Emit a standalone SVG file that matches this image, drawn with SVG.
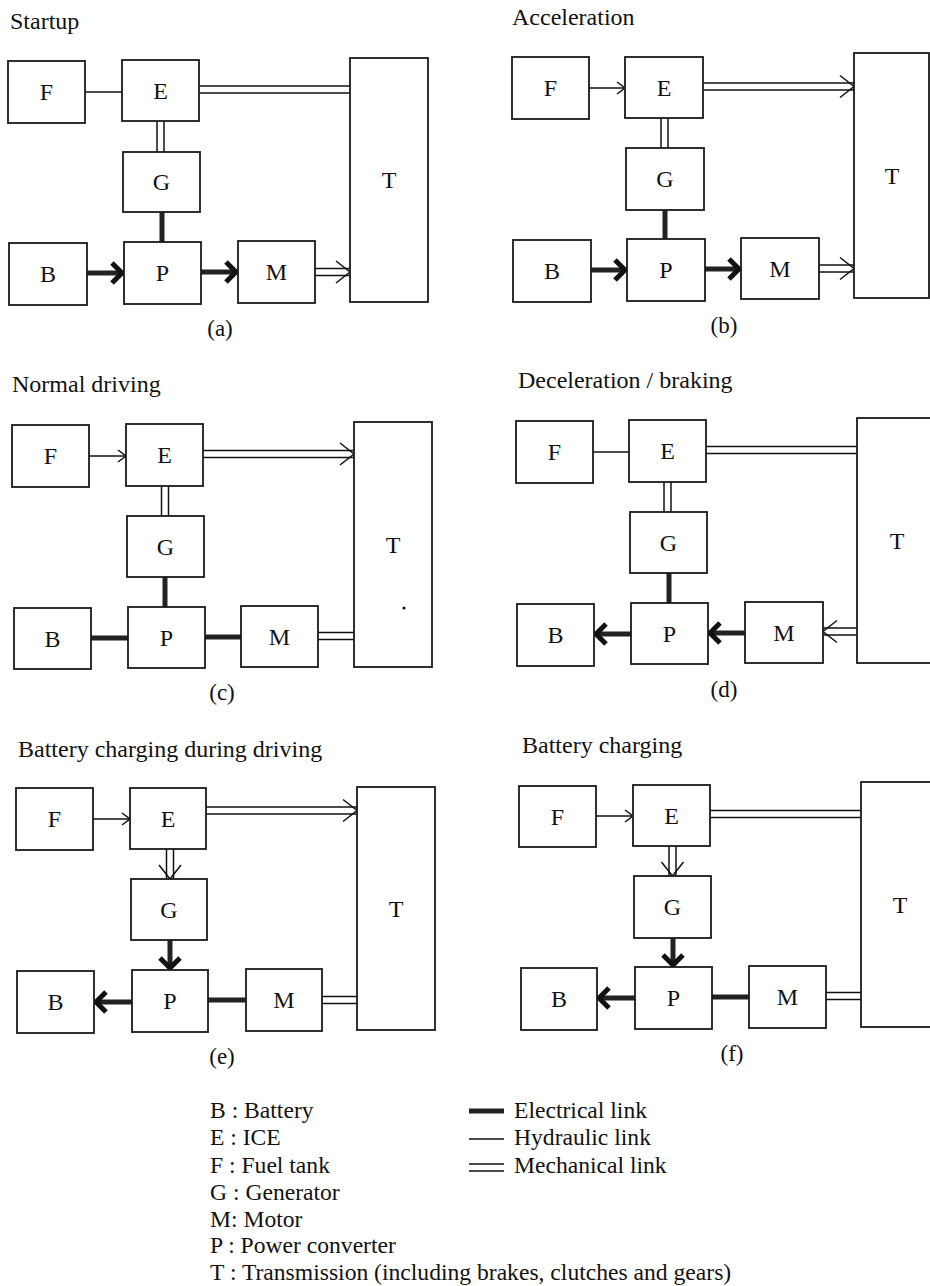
<svg xmlns="http://www.w3.org/2000/svg" width="930" height="1286" viewBox="0 0 930 1286">
<style>
  .box{fill:#fff;stroke:#1a1a1a;stroke-width:1.8}
  .lbl{font-family:"Liberation Serif","Times New Roman",serif;font-size:24px;fill:#111;text-anchor:middle}
  .ttl{font-family:"Liberation Serif","Times New Roman",serif;font-size:24px;fill:#111}
  .cap{font-family:"Liberation Serif","Times New Roman",serif;font-size:23px;fill:#111;text-anchor:middle}
  .leg{font-family:"Liberation Serif","Times New Roman",serif;font-size:23.6px;fill:#111}
  .hyd{fill:none;stroke:#111;stroke-width:1.5}
  .elec{fill:none;stroke:#222;stroke-width:5}
  .mo{fill:none;stroke:#111;stroke-width:8.5}
  .mi{fill:none;stroke:#fff;stroke-width:5.5}
  .ha{fill:none;stroke:none;marker-end:url(#hArr)}
  .ea{fill:none;stroke:none;marker-end:url(#eArr)}
  .ma{fill:none;stroke:none;marker-end:url(#mArr)}
</style>
<defs>
  <marker id="hArr" viewBox="-20 -20 40 40" markerWidth="40" markerHeight="40" markerUnits="userSpaceOnUse" refX="0" refY="0" orient="auto" overflow="visible">
    <path d="M-8,-6 L0,0 L-8,6" fill="none" stroke="#111" stroke-width="1.5"/>
  </marker>
  <marker id="mArr" viewBox="-20 -20 40 40" markerWidth="40" markerHeight="40" markerUnits="userSpaceOnUse" refX="0" refY="0" orient="auto" overflow="visible">
    <path d="M-14,-11 L0,0 L-14,11" fill="none" stroke="#111" stroke-width="1.5"/>
  </marker>
  <marker id="eArr" viewBox="-20 -20 40 40" markerWidth="40" markerHeight="40" markerUnits="userSpaceOnUse" refX="0" refY="0" orient="auto" overflow="visible">
    <path d="M-12,-10 L-2,0 L-12,10" fill="none" stroke="#111" stroke-width="5" stroke-linejoin="miter"/>
  </marker>
</defs>
<rect width="930" height="1286" fill="#fff"/>

<!-- Titles -->
<g id="titles">
  <text class="ttl" x="10" y="29">Startup</text>
  <text class="ttl" x="512" y="25">Acceleration</text>
  <text class="ttl" x="12" y="392">Normal driving</text>
  <text class="ttl" x="518" y="388">Deceleration / braking</text>
  <text class="ttl" x="18" y="757">Battery charging during driving</text>
  <text class="ttl" x="522" y="753">Battery charging</text>
  <text class="cap" x="220" y="336">(a)</text>
  <text class="cap" x="724" y="333">(b)</text>
  <text class="cap" x="222" y="700">(c)</text>
  <text class="cap" x="724" y="697">(d)</text>
  <text class="cap" x="222" y="1064">(e)</text>
  <text class="cap" x="732" y="1061">(f)</text>
</g>

<!-- Connectors -->
<g id="connectors">
  <!-- (a) -->
  <path class="hyd" d="M85,92 L122,92"/>
  <path class="mo" d="M199,89.5 L350,89.5"/><path class="mi" d="M199,89.5 L350,89.5"/>
  <path class="mo" d="M160.5,121 L160.5,152"/><path class="mi" d="M160.5,121 L160.5,152"/>
  <path class="elec" d="M162,212 L162,242"/>
  <path class="elec" d="M87,273 L122,273"/><path class="ea" d="M87,273 L124,273"/>
  <path class="elec" d="M201,272 L236,272"/><path class="ea" d="M201,272 L238,272"/>
  <path class="mo" d="M315,272 L350,272"/><path class="mi" d="M315,272 L350,272"/><path class="ma" d="M315,272 L350,272"/>

  <!-- (b) -->
  <path class="hyd" d="M589,88 L625,88"/><path class="ha" d="M589,88 L625,88"/>
  <path class="mo" d="M703,86.5 L854,86.5"/><path class="mi" d="M703,86.5 L854,86.5"/><path class="ma" d="M703,86.5 L854,86.5"/>
  <path class="mo" d="M664.5,118 L664.5,148"/><path class="mi" d="M664.5,118 L664.5,148"/>
  <path class="elec" d="M665,210 L665,239"/>
  <path class="elec" d="M591,270 L625,270"/><path class="ea" d="M591,270 L627,270"/>
  <path class="elec" d="M705,269 L739,269"/><path class="ea" d="M705,269 L741,269"/>
  <path class="mo" d="M819,268.5 L854,268.5"/><path class="mi" d="M819,268.5 L854,268.5"/><path class="ma" d="M819,268.5 L854,268.5"/>

  <!-- (c) -->
  <path class="hyd" d="M89,456 L126,456"/><path class="ha" d="M89,456 L126,456"/>
  <path class="mo" d="M203,454 L354,454"/><path class="mi" d="M203,454 L354,454"/><path class="ma" d="M203,454 L354,454"/>
  <path class="mo" d="M165,486 L165,516"/><path class="mi" d="M165,486 L165,516"/>
  <path class="elec" d="M165,577 L165,607"/>
  <path class="elec" d="M91,638 L128,638"/>
  <path class="elec" d="M205,637 L241,637"/>
  <path class="mo" d="M318,636 L354,636"/><path class="mi" d="M318,636 L354,636"/>

  <!-- (d) -->
  <path class="hyd" d="M593,452 L629,452"/>
  <path class="mo" d="M706,450 L857,450"/><path class="mi" d="M706,450 L857,450"/>
  <path class="mo" d="M667.5,482 L667.5,512"/><path class="mi" d="M667.5,482 L667.5,512"/>
  <path class="elec" d="M669,573 L669,603"/>
  <path class="elec" d="M631,634 L596,634"/><path class="ea" d="M631,634 L594,634"/>
  <path class="elec" d="M745,633 L710,633"/><path class="ea" d="M745,633 L708,633"/>
  <path class="mo" d="M857,631.5 L823,631.5"/><path class="mi" d="M857,631.5 L823,631.5"/><path class="ma" d="M857,631.5 L823,631.5"/>

  <!-- (e) -->
  <path class="hyd" d="M93,819 L130,819"/><path class="ha" d="M93,819 L130,819"/>
  <path class="mo" d="M206,810.5 L357,810.5"/><path class="mi" d="M206,810.5 L357,810.5"/><path class="ma" d="M206,810.5 L357,810.5"/>
  <path class="mo" d="M170,849 L170,879"/><path class="mi" d="M170,849 L170,879"/><path class="ma" d="M170,849 L170,879"/>
  <path class="elec" d="M170,940 L170,968"/><path class="ea" d="M170,940 L170,970"/>
  <path class="elec" d="M132,1002 L96,1002"/><path class="ea" d="M132,1002 L94,1002"/>
  <path class="elec" d="M208,1000 L246,1000"/>
  <path class="mo" d="M322,1000 L357,1000"/><path class="mi" d="M322,1000 L357,1000"/>

  <!-- (f) -->
  <path class="hyd" d="M596,816 L633,816"/><path class="ha" d="M596,816 L633,816"/>
  <path class="mo" d="M710,814 L861,814"/><path class="mi" d="M710,814 L861,814"/>
  <path class="mo" d="M672.5,846 L672.5,876"/><path class="mi" d="M672.5,846 L672.5,876"/><path class="ma" d="M672.5,846 L672.5,876"/>
  <path class="elec" d="M673,938 L673,965"/><path class="ea" d="M673,938 L673,967"/>
  <path class="elec" d="M635,998 L599,998"/><path class="ea" d="M635,998 L597,998"/>
  <path class="elec" d="M712,997 L749,997"/>
  <path class="mo" d="M826,996 L861,996"/><path class="mi" d="M826,996 L861,996"/>
</g>

<!-- Panel (a) nodes -->
<g id="a-F"><rect class="box" x="8" y="61" width="77" height="62"/><text class="lbl" x="46.5" y="100">F</text></g>
<g id="a-E"><rect class="box" x="122" y="60" width="77" height="61"/><text class="lbl" x="160.5" y="98.5">E</text></g>
<g id="a-G"><rect class="box" x="123" y="152" width="77" height="60"/><text class="lbl" x="161.5" y="190">G</text></g>
<g id="a-B"><rect class="box" x="9" y="243" width="78" height="62"/><text class="lbl" x="48" y="282">B</text></g>
<g id="a-P"><rect class="box" x="124" y="242" width="77" height="62"/><text class="lbl" x="162.5" y="281">P</text></g>
<g id="a-M"><rect class="box" x="238" y="241" width="77" height="62"/><text class="lbl" x="276.5" y="280">M</text></g>
<g id="a-T"><rect class="box" x="350" y="58" width="78" height="244"/><text class="lbl" x="389" y="188">T</text></g>

<!-- Panel (b) nodes -->
<g id="b-F"><rect class="box" x="512" y="57" width="77" height="62"/><text class="lbl" x="550.5" y="96">F</text></g>
<g id="b-E"><rect class="box" x="625" y="57" width="78" height="61"/><text class="lbl" x="664" y="95.5">E</text></g>
<g id="b-G"><rect class="box" x="626" y="148" width="78" height="62"/><text class="lbl" x="665" y="187">G</text></g>
<g id="b-B"><rect class="box" x="513" y="240" width="78" height="62"/><text class="lbl" x="552" y="279">B</text></g>
<g id="b-P"><rect class="box" x="627" y="239" width="78" height="62"/><text class="lbl" x="666" y="278">P</text></g>
<g id="b-M"><rect class="box" x="741" y="238" width="78" height="61"/><text class="lbl" x="780" y="276.5">M</text></g>
<g id="b-T"><rect class="box" x="854" y="53" width="75" height="245"/><text class="lbl" x="892" y="184">T</text></g>

<!-- Panel (c) nodes -->
<g id="c-F"><rect class="box" x="12" y="425" width="77" height="62"/><text class="lbl" x="50.5" y="464">F</text></g>
<g id="c-E"><rect class="box" x="126" y="424" width="77" height="62"/><text class="lbl" x="164.5" y="463">E</text></g>
<g id="c-G"><rect class="box" x="127" y="516" width="77" height="61"/><text class="lbl" x="165.5" y="554.5">G</text></g>
<g id="c-B"><rect class="box" x="14" y="608" width="77" height="61"/><text class="lbl" x="52.5" y="646.5">B</text></g>
<g id="c-P"><rect class="box" x="128" y="607" width="77" height="61"/><text class="lbl" x="166.5" y="645.5">P</text></g>
<g id="c-M"><rect class="box" x="241" y="606" width="77" height="61"/><text class="lbl" x="279.5" y="644.5">M</text></g>
<g id="c-T"><rect class="box" x="354" y="422" width="78" height="245"/><text class="lbl" x="393" y="552.5">T</text><circle cx="404" cy="608" r="1.6" fill="#111"/></g>

<!-- Panel (d) nodes -->
<g id="d-F"><rect class="box" x="516" y="421" width="77" height="62"/><text class="lbl" x="554.5" y="460">F</text></g>
<g id="d-E"><rect class="box" x="629" y="420" width="77" height="62"/><text class="lbl" x="667.5" y="459">E</text></g>
<g id="d-G"><rect class="box" x="630" y="512" width="77" height="61"/><text class="lbl" x="668.5" y="550.5">G</text></g>
<g id="d-B"><rect class="box" x="517" y="604" width="77" height="62"/><text class="lbl" x="555.5" y="643">B</text></g>
<g id="d-P"><rect class="box" x="631" y="603" width="77" height="61"/><text class="lbl" x="669.5" y="641.5">P</text></g>
<g id="d-M"><rect class="box" x="745" y="602" width="78" height="61"/><text class="lbl" x="784" y="640.5">M</text></g>
<g id="d-T"><rect class="box" x="857" y="418" width="76" height="245"/><text class="lbl" x="897" y="548.5">T</text></g>

<!-- Panel (e) nodes -->
<g id="e-F"><rect class="box" x="16" y="788" width="77" height="62"/><text class="lbl" x="54.5" y="827">F</text></g>
<g id="e-E"><rect class="box" x="130" y="788" width="76" height="61"/><text class="lbl" x="168" y="826.5">E</text></g>
<g id="e-G"><rect class="box" x="131" y="879" width="76" height="61"/><text class="lbl" x="169" y="917.5">G</text></g>
<g id="e-B"><rect class="box" x="17" y="971" width="77" height="62"/><text class="lbl" x="55.5" y="1010">B</text></g>
<g id="e-P"><rect class="box" x="132" y="970" width="76" height="62"/><text class="lbl" x="170" y="1009">P</text></g>
<g id="e-M"><rect class="box" x="246" y="969" width="76" height="62"/><text class="lbl" x="284" y="1008">M</text></g>
<g id="e-T"><rect class="box" x="357" y="787" width="78" height="243"/><text class="lbl" x="396" y="916.5">T</text></g>

<!-- Panel (f) nodes -->
<g id="f-F"><rect class="box" x="519" y="786" width="77" height="61"/><text class="lbl" x="557.5" y="824.5">F</text></g>
<g id="f-E"><rect class="box" x="633" y="785" width="77" height="61"/><text class="lbl" x="671.5" y="823.5">E</text></g>
<g id="f-G"><rect class="box" x="634" y="876" width="77" height="62"/><text class="lbl" x="672.5" y="915">G</text></g>
<g id="f-B"><rect class="box" x="521" y="968" width="76" height="62"/><text class="lbl" x="559" y="1007">B</text></g>
<g id="f-P"><rect class="box" x="635" y="967" width="77" height="62"/><text class="lbl" x="673.5" y="1006">P</text></g>
<g id="f-M"><rect class="box" x="749" y="966" width="77" height="62"/><text class="lbl" x="787.5" y="1005">M</text></g>
<g id="f-T"><rect class="box" x="861" y="782" width="75" height="245"/><text class="lbl" x="900" y="912.5">T</text></g>

<!-- Legend -->
<g id="legend">
  <text class="leg" x="210" y="1118">B : Battery</text>
  <text class="leg" x="210" y="1145">E : ICE</text>
  <text class="leg" x="210" y="1173">F : Fuel tank</text>
  <text class="leg" x="210" y="1200">G : Generator</text>
  <text class="leg" x="210" y="1227">M: Motor</text>
  <text class="leg" x="210" y="1253">P : Power converter</text>
  <text class="leg" x="210" y="1280">T : Transmission (including brakes, clutches and gears)</text>
  <path class="elec" d="M469,1111 L504,1111"/>
  <path class="hyd" d="M469,1139 L504,1139"/>
  <path class="mo" d="M469,1167.5 L504,1167.5"/><path class="mi" d="M469,1167.5 L504,1167.5"/>
  <text class="leg" x="514" y="1118">Electrical link</text>
  <text class="leg" x="514" y="1145">Hydraulic link</text>
  <text class="leg" x="514" y="1173">Mechanical link</text>
</g>
</svg>
